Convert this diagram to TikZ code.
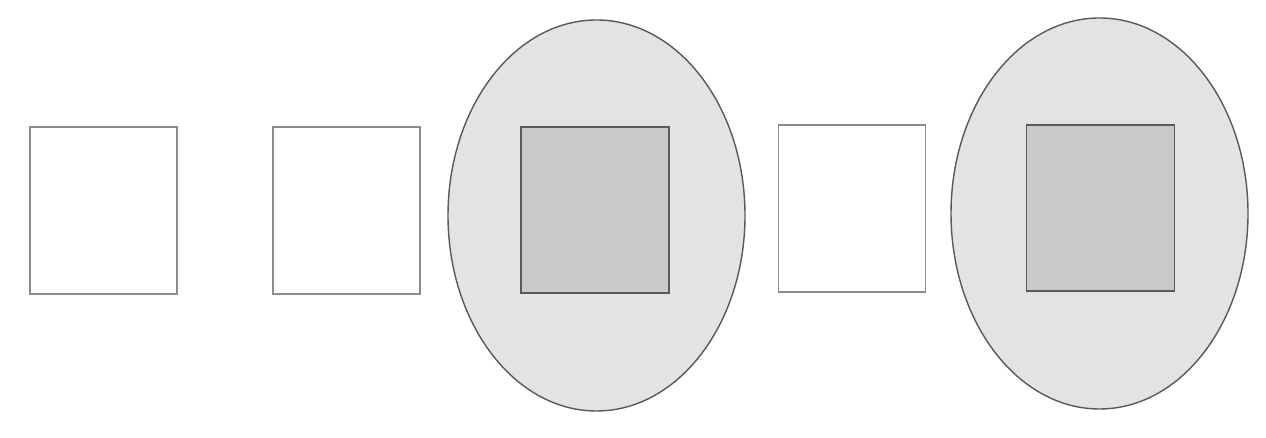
\documentclass[tikz,border=0pt]{standalone}
\usepackage{tikz}
\usetikzlibrary{shapes.geometric,positioning}
\definecolor{boxline}{gray}{0.55}
\definecolor{darkline}{gray}{0.35}
\definecolor{ovalfill}{gray}{0.89}
\definecolor{corefill}{gray}{0.79}

\begin{document}
\begin{tikzpicture}[every node/.style={inner sep=0pt}]
  \tikzstyle{EmptyBox}=[draw=boxline, line width=0.9pt, fill=white, minimum width=2.94cm, minimum height=3.34cm]
  \tikzstyle{FullBox}=[draw=darkline, line width=0.9pt, fill=corefill, minimum width=2.96cm, minimum height=3.32cm]
  \tikzstyle{Oval}=[ellipse, draw=darkline, line width=0.8pt, fill=ovalfill, minimum width=5.94cm, minimum height=7.82cm]
  \useasboundingbox (0,0) rectangle (25.32,8.76);

  \node[Oval] (o1) at (11.93,4.45) {};
  \node[Oval] (o2) at (21.99,4.49) {};

  \node[EmptyBox] (b1) at (2.07,4.55) {};
  \node[EmptyBox] (b2) at (6.93,4.55) {};
  \node[FullBox]  (b3) at (11.90,4.56) {};
  \node[EmptyBox] (b4) at (17.04,4.59) {};
  \node[FullBox]  (b5) at (22.01,4.60) {};
\end{tikzpicture}
\end{document}
